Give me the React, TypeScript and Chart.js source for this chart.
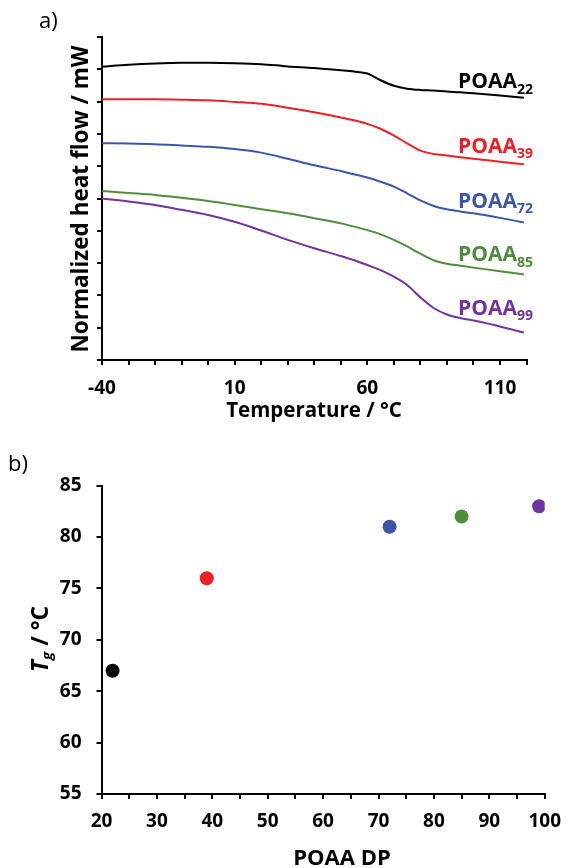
import React, { useEffect, useRef } from "react";
import { Chart, registerables } from "chart.js";

Chart.register(...registerables);

// ---------- data: panel a (DSC traces) ----------
const temperatures = [-40, -30, -20, -10, 0, 10, 20, 30, 40, 50, 55, 60, 65, 70, 75, 80, 85, 90, 95, 100, 110, 119];
const poaa22 = [9.08, 9.14, 9.18, 9.2, 9.2, 9.19, 9.16, 9.09, 9.04, 8.97, 8.93, 8.87, 8.66, 8.49, 8.4, 8.36, 8.34, 8.31, 8.29, 8.26, 8.19, 8.12];
const poaa39 = [8.07, 8.07, 8.07, 8.06, 8.04, 7.99, 7.93, 7.81, 7.67, 7.51, 7.42, 7.31, 7.16, 6.95, 6.71, 6.48, 6.38, 6.33, 6.28, 6.23, 6.14, 6.06];
const poaa72 = [6.71, 6.7, 6.68, 6.64, 6.6, 6.53, 6.42, 6.23, 6.03, 5.85, 5.75, 5.65, 5.52, 5.37, 5.16, 4.94, 4.77, 4.67, 4.6, 4.54, 4.4, 4.26];
const poaa85 = [5.23, 5.17, 5.11, 5.02, 4.92, 4.8, 4.67, 4.54, 4.39, 4.23, 4.13, 4.02, 3.89, 3.72, 3.52, 3.29, 3.09, 2.98, 2.92, 2.86, 2.75, 2.65];
const poaa99 = [5.0, 4.91, 4.8, 4.65, 4.49, 4.28, 4.01, 3.72, 3.46, 3.22, 3.09, 2.94, 2.78, 2.58, 2.32, 1.94, 1.61, 1.41, 1.3, 1.22, 1.04, 0.85];
const seriesA = [poaa22, poaa39, poaa72, poaa85, poaa99];
const seriesSubscripts = ["22", "39", "72", "85", "99"];
const seriesColors = ["#000000", "#ee2024", "#3b55a8", "#4f8c3c", "#7232a0"];
const xLabelsA = [-40, 10, 60, 110];

// ---------- data: panel b (Tg vs DP) ----------
const dpValues = [22, 39, 72, 85, 99];
const tgValues = [67, 76, 81, 82, 83];

const FONT = "'Open Sans', 'Liberation Sans', sans-serif";

function drawSubText(
  ctx: CanvasRenderingContext2D,
  parts: { text: string; font: string; dy: number }[],
  x: number,
  y: number,
  align: "left" | "center"
) {
  let total = 0;
  const widths = parts.map((p) => {
    ctx.font = p.font;
    const w = ctx.measureText(p.text).width;
    total += w;
    return w;
  });
  let cx = align === "center" ? x - total / 2 : x;
  ctx.textAlign = "left";
  ctx.textBaseline = "alphabetic";
  parts.forEach((p, i) => {
    ctx.font = p.font;
    ctx.fillText(p.text, cx, y + p.dy);
    cx += widths[i];
  });
}

const labelYA = [88, 152.5, 207.5, 261, 314.5];

const annotA = {
  id: "annotA",
  afterDraw(chart: any) {
    const ctx = chart.ctx as CanvasRenderingContext2D;
    ctx.save();
    ctx.fillStyle = "#000";
    ctx.font = `22px ${FONT}`;
    ctx.textAlign = "left";
    ctx.textBaseline = "alphabetic";
    ctx.fillText("a)", 39, 28);
    seriesSubscripts.forEach((s, i) => {
      ctx.fillStyle = seriesColors[i];
      drawSubText(
        ctx,
        [
          { text: "POAA", font: `bold 21px ${FONT}`, dy: 0 },
          { text: s, font: `bold 14px ${FONT}`, dy: 5.5 },
        ],
        458,
        labelYA[i],
        "left"
      );
    });
    ctx.fillStyle = "#000";
    ctx.font = `bold 20.5px ${FONT}`;
    ctx.textAlign = "center";
    ctx.fillText("Temperature / °C", 314, 417);
    ctx.translate(87.5, 199);
    ctx.rotate(-Math.PI / 2);
    ctx.font = `bold 22.5px ${FONT}`;
    ctx.fillText("Normalized heat flow / mW", 0, 0);
    ctx.restore();
  },
};

const annotB = {
  id: "annotB",
  afterDraw(chart: any) {
    const ctx = chart.ctx as CanvasRenderingContext2D;
    ctx.save();
    ctx.fillStyle = "#000";
    ctx.font = `22px ${FONT}`;
    ctx.textAlign = "left";
    ctx.textBaseline = "alphabetic";
    ctx.fillText("b)", 8, 41);
    ctx.font = `bold 22px ${FONT}`;
    ctx.textAlign = "center";
    ctx.fillText("POAA DP", 342, 435);
    ctx.translate(47.5, 209);
    ctx.rotate(-Math.PI / 2);
    drawSubText(
      ctx,
      [
        { text: "T", font: `italic bold 23px ${FONT}`, dy: 0 },
        { text: "g", font: `italic bold 15px ${FONT}`, dy: 4 },
        { text: " / °C", font: `bold 23px ${FONT}`, dy: 0 },
      ],
      0,
      0,
      "center"
    );
    ctx.restore();
  },
};

const axisGrid = { drawOnChartArea: false, drawTicks: true, tickLength: 5, color: "#000", lineWidth: 2 };
const axisBorder = { display: true, color: "#000", width: 2 };

export default function App() {
  const refA = useRef<HTMLCanvasElement>(null);
  const refB = useRef<HTMLCanvasElement>(null);

  useEffect(() => {
    const chartA = new Chart(refA.current as HTMLCanvasElement, {
      type: "line",
      data: {
        datasets: seriesA.map((s, i) => ({
          label: "POAA" + seriesSubscripts[i],
          data: temperatures.map((t, j) => ({ x: t, y: s[j] })),
          borderColor: seriesColors[i],
          borderWidth: 2,
          pointRadius: 0,
          fill: false,
          cubicInterpolationMode: "monotone" as const,
        })),
      },
      options: {
        responsive: false,
        animation: false,
        events: [],
        layout: { padding: { left: 0, top: 37, right: 45.5, bottom: 10 } },
        plugins: { legend: { display: false }, tooltip: { enabled: false } },
        scales: {
          x: {
            type: "linear",
            min: -40,
            max: 120,
            afterFit: (s: any) => {
              s.height = 60;
            },
            ticks: {
              stepSize: 10,
              autoSkip: false,
              maxRotation: 0,
              padding: 12,
              color: "#000",
              font: { family: FONT, size: 19, weight: "bold" },
              callback: (v: any) => (xLabelsA.includes(Math.round(Number(v))) ? String(Math.round(Number(v))) : ""),
            },
            grid: axisGrid,
            border: axisBorder,
          },
          y: {
            type: "linear",
            min: 0,
            max: 10,
            afterFit: (s: any) => {
              s.width = 102;
            },
            ticks: { stepSize: 1, callback: () => "" },
            grid: axisGrid,
            border: axisBorder,
          },
        },
      },
      plugins: [annotA],
    } as any);

    const chartB = new Chart(refB.current as HTMLCanvasElement, {
      type: "scatter",
      data: {
        datasets: [
          {
            label: "Tg",
            data: dpValues.map((d, i) => ({ x: d, y: tgValues[i] })),
            pointRadius: 7,
            pointBorderWidth: 0,
            pointBackgroundColor: seriesColors,
            pointBorderColor: seriesColors,
          },
        ],
      },
      options: {
        responsive: false,
        animation: false,
        events: [],
        layout: { padding: { left: 0, top: 55.7, right: 17.5, bottom: 14 } },
        plugins: { legend: { display: false }, tooltip: { enabled: false } },
        scales: {
          x: {
            type: "linear",
            min: 20,
            max: 100,
            afterFit: (s: any) => {
              s.height = 60;
            },
            ticks: {
              stepSize: 5,
              autoSkip: false,
              maxRotation: 0,
              padding: 11,
              color: "#000",
              font: { family: FONT, size: 19, weight: "bold" },
              callback: (v: any) => (Math.round(Number(v)) % 10 === 0 ? String(Math.round(Number(v))) : ""),
            },
            grid: axisGrid,
            border: axisBorder,
          },
          y: {
            type: "linear",
            min: 55,
            max: 85,
            afterFit: (s: any) => {
              s.width = 101.5;
            },
            ticks: {
              stepSize: 5,
              padding: 15,
              color: "#000",
              font: { family: FONT, size: 19, weight: "bold" },
            },
            grid: axisGrid,
            border: axisBorder,
          },
        },
      },
      plugins: [annotB],
    } as any);

    return () => {
      chartA.destroy();
      chartB.destroy();
    };
  }, []);

  return (
    <div style={{ position: "absolute", left: 0, top: 0, width: 572, height: 868, background: "#fff" }}>
      <canvas ref={refA} width={572} height={430} style={{ position: "absolute", left: 0, top: 0, display: "block" }} />
      <canvas ref={refB} width={572} height={438} style={{ position: "absolute", left: 0, top: 430, display: "block" }} />
    </div>
  );
}
